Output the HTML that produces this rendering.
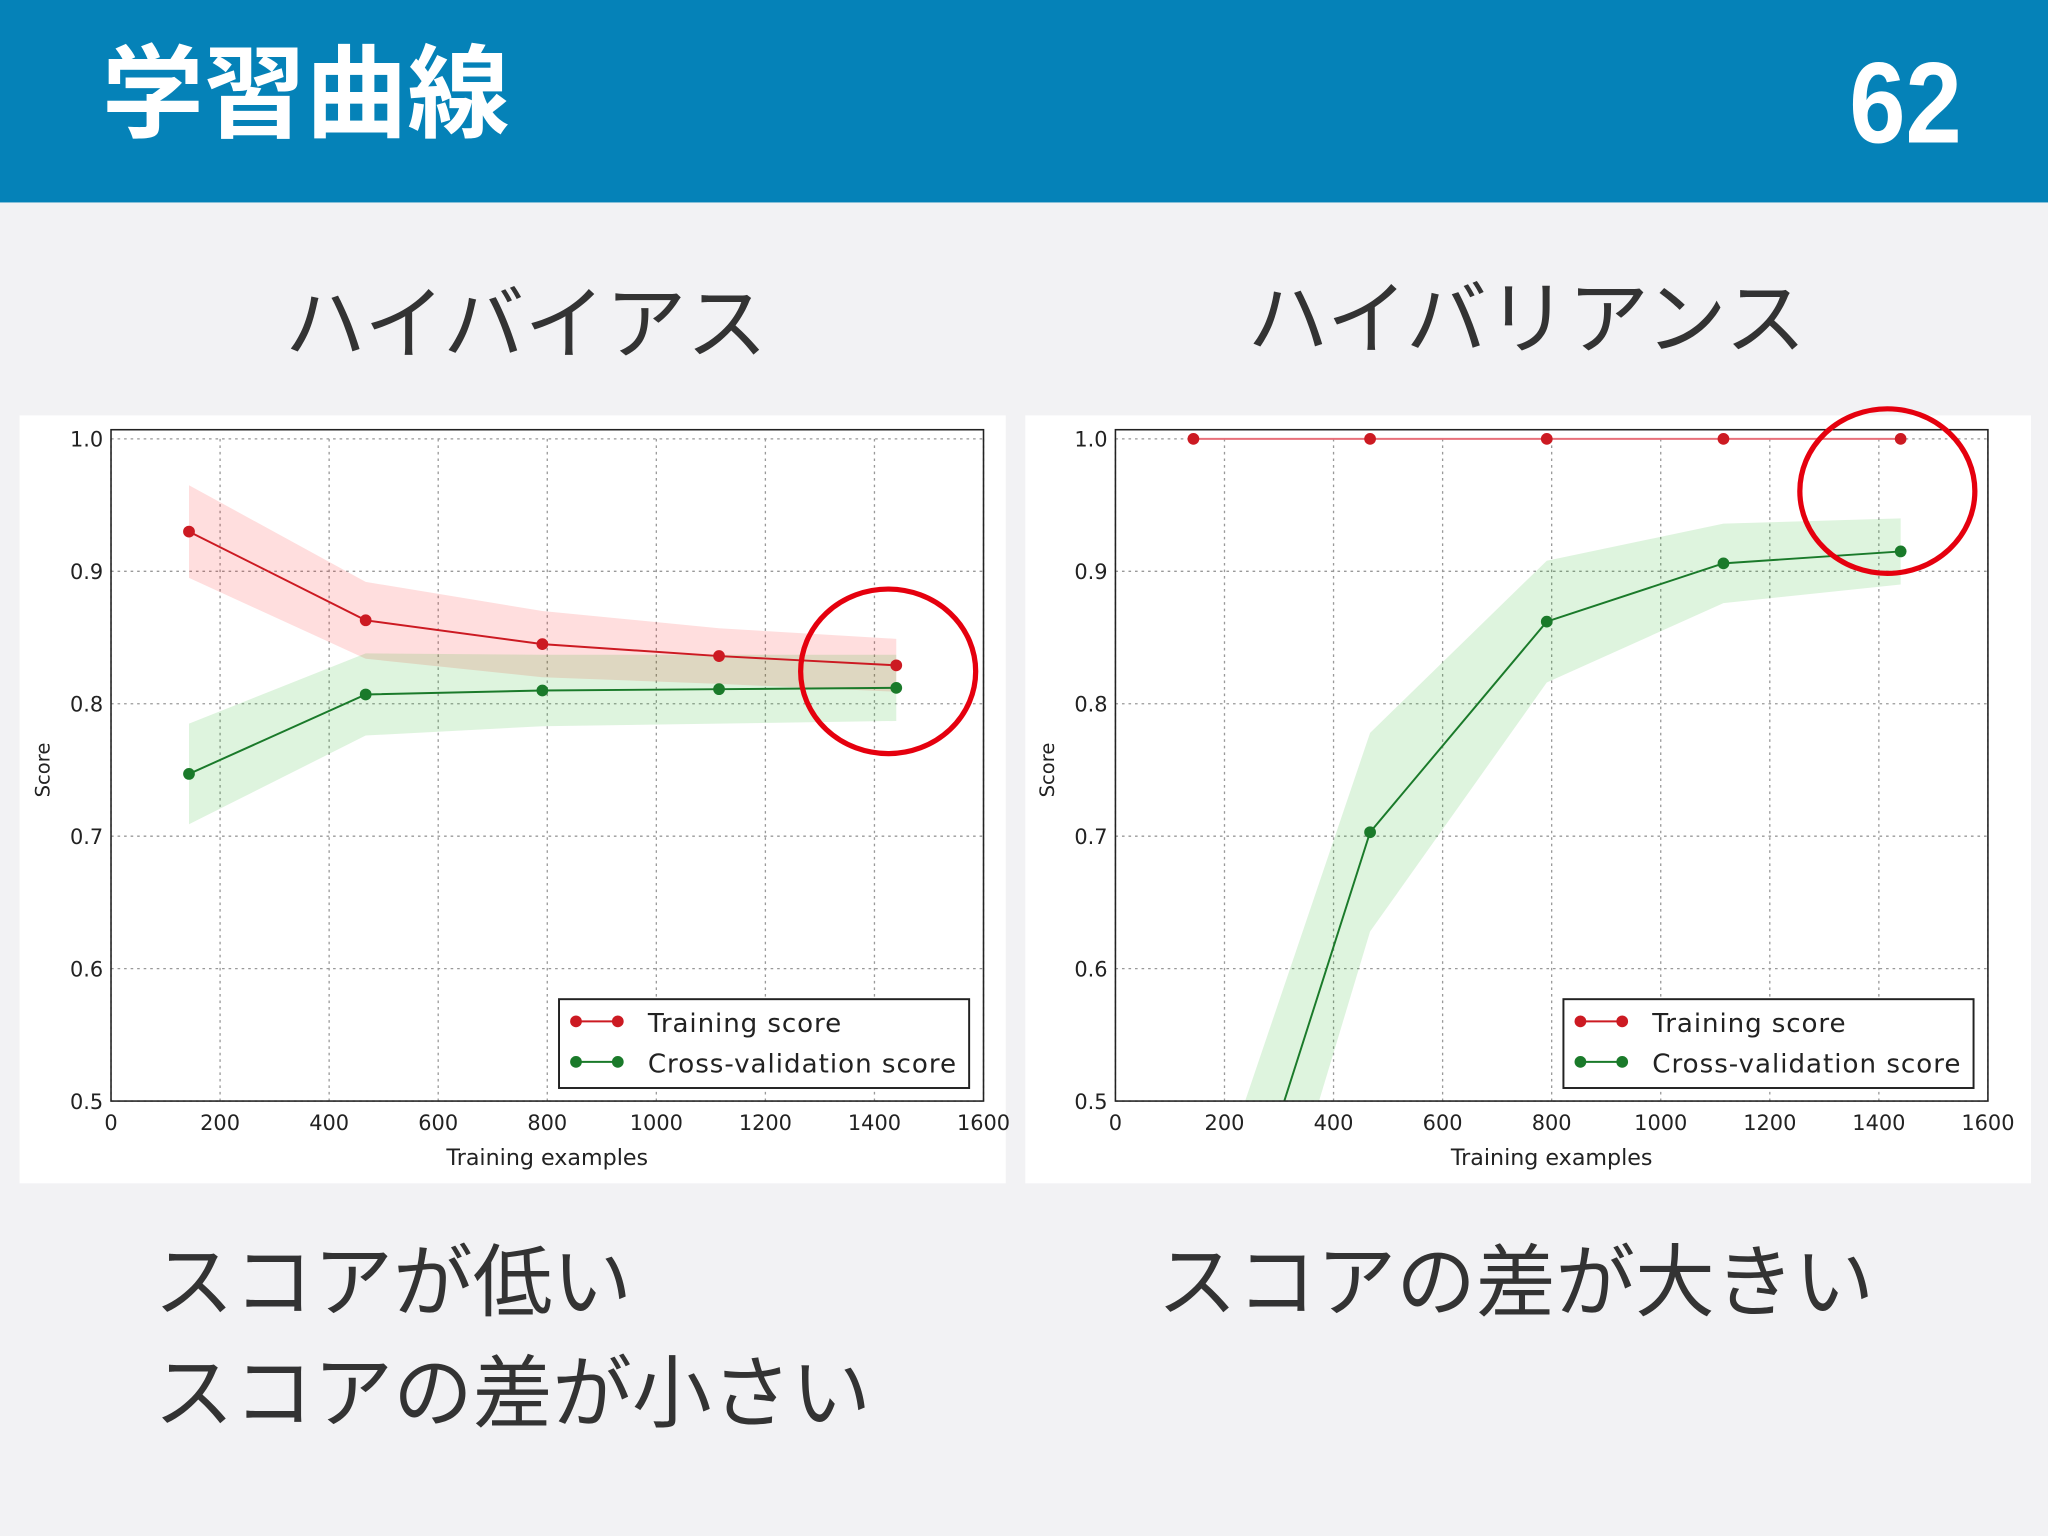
<!DOCTYPE html>
<html><head><meta charset="utf-8"><style>
html,body{margin:0;padding:0;background:#f2f2f4;}
svg{display:block;}
</style></head><body>
<svg id="s" width="2048" height="1536" viewBox="0 0 1568 1176" xmlns="http://www.w3.org/2000/svg">
<rect x="0" y="0" width="1568" height="1176" fill="#f2f2f4"/>
<rect x="0" y="0" width="1568" height="155" fill="#0582b8"/>
<text x="78" y="99" font-family="'Liberation Sans','Noto Sans CJK JP',sans-serif" font-weight="bold" font-size="78" fill="#fff">学習曲線</text>
<text x="0" y="0" text-anchor="end" font-family="'Liberation Sans',sans-serif" font-weight="bold" font-size="88" fill="#fff" transform="translate(1502,109) scale(0.88,1)">62</text>
<text x="218" y="270" font-family="'Liberation Sans','Noto Sans CJK JP',sans-serif" font-size="62" fill="#333">ハイバイアス</text>
<text x="955" y="266" font-family="'Liberation Sans','Noto Sans CJK JP',sans-serif" font-size="62" fill="#333">ハイバリアンス</text>
<text x="118" y="1003" font-family="'Liberation Sans','Noto Sans CJK JP',sans-serif" font-size="61" fill="#333">スコアが低い</text>
<text x="118" y="1088" font-family="'Liberation Sans','Noto Sans CJK JP',sans-serif" font-size="61" fill="#333">スコアの差が小さい</text>
<text x="886" y="1003" font-family="'Liberation Sans','Noto Sans CJK JP',sans-serif" font-size="61" fill="#333">スコアの差が大きい</text>
<g id="charts"></g>
</svg>
<script>
const trainSizes = [143, 467, 791, 1115, 1440];
const leftTrainMean = [0.930, 0.863, 0.845, 0.836, 0.829];
const leftTrainStd = [0.035, 0.029, 0.025, 0.021, 0.020];
const leftCvMean = [0.747, 0.807, 0.810, 0.811, 0.812];
const leftCvStd = [0.038, 0.031, 0.027, 0.026, 0.025];
const rightTrainMean = [1.0, 1.0, 1.0, 1.0, 1.0];
const rightTrainStd = [0.0, 0.0, 0.0, 0.0, 0.0];
const rightCvMean = [0.285, 0.703, 0.862, 0.906, 0.915];
const rightCvStd = [0.10, 0.075, 0.046, 0.030, 0.025];
const xTicks = [0, 200, 400, 600, 800, 1000, 1200, 1400, 1600];
const yTicks = [0.5, 0.6, 0.7, 0.8, 0.9, 1.0];
const yTickLabels = ["0.5", "0.6", "0.7", "0.8", "0.9", "1.0"];

const NS = "http://www.w3.org/2000/svg";
const root = document.getElementById('charts');
function mk(tag, attrs, parent){const e=document.createElementNS(NS,tag);for(const k in attrs)e.setAttribute(k,attrs[k]);(parent||root).appendChild(e);return e;}

function chart(id, fx, fy, fw, fh, px0, px1, trM, trS, cvM, cvS, circle, trCol){
  const py0=336, py1=843;
  const g=mk('g',{});
  
  
  const bg=mk('rect',{x:fx,y:fy,width:fw,height:fh,fill:'#fff'},g);
  
  
  const X=v=>px0+(v-0)/(1600-0)*(px1-px0);
  const Y=v=>py1-(v-0.5)/(1.0-0.5)*(py1-py0);
  const cid=id+'clip';
  const cp=mk('clipPath',{id:cid},g);
  mk('rect',{x:px0,y:py0-7,width:px1-px0,height:py1-py0+7},cp);
  xTicks.forEach(t=>{const l=mk('line',{x1:X(t),x2:X(t),y1:py0,y2:py1,stroke:'#999','stroke-width':1,'stroke-dasharray':'2,3'},g);
    
    
    const tx=mk('text',{x:X(t),y:py1+22,'text-anchor':'middle','font-family':'DejaVu Sans,sans-serif','font-size':16,fill:'#222'},g);tx.textContent=t;
    
    });
  yTicks.forEach((t,i)=>{const l=mk('line',{x1:px0,x2:px1,y1:Y(t),y2:Y(t),stroke:'#999','stroke-width':1,'stroke-dasharray':'2,3'},g);
    
    
    const tx=mk('text',{x:px0-6,y:Y(t)+6,'text-anchor':'end','font-family':'DejaVu Sans,sans-serif','font-size':16,fill:'#222'},g);tx.textContent=yTickLabels[i];
    
    });
  const cl=mk('g',{'clip-path':'url(#'+cid+')'},g);
  function band(m,s,col,nm){
    let d='';trainSizes.forEach((x,i)=>{d+=(i?'L':'M')+X(x)+','+Y(m[i]+s[i]);});
    for(let i=trainSizes.length-1;i>=0;i--)d+='L'+X(trainSizes[i])+','+Y(m[i]-s[i]);
    const p=mk('path',{d:d+'Z',fill:col,'fill-opacity':0.13},cl);
    
    
  }
  function line(m,col,nm,lc){
    const pts=trainSizes.map((x,i)=>X(x)+','+Y(m[i])).join(' ');
    const l=mk('polyline',{points:pts,fill:'none',stroke:lc||col,'stroke-width':1.5},cl);
    
    
    trainSizes.forEach((x,i)=>{const c=mk('circle',{cx:X(x),cy:Y(m[i]),r:4.5,fill:col},cl);
      
      });
  }
  band(trM,trS,'#ff0000',id+'-training-band');
  band(cvM,cvS,'#00aa00',id+'-cv-band');
  line(trM,'#cc1a22',id+'-training',trCol);
  line(cvM,'#1a7a2a',id+'-cv');
  const fr=mk('rect',{x:px0,y:py0-7,width:px1-px0,height:py1-py0+7,fill:'none',stroke:'#222','stroke-width':1.2},g);
  
  
  const yl=mk('text',{x:0,y:0,'text-anchor':'middle','font-family':'DejaVu Sans,sans-serif','font-size':15,fill:'#222',transform:'translate('+(px0-47)+','+((py0+py1)/2)+') rotate(-90)'},g);yl.textContent='Score';
  
  
  const xl=mk('text',{x:(px0+px1)/2,y:py1+49,'text-anchor':'middle','font-family':'DejaVu Sans,sans-serif','font-size':17,fill:'#222'},g);xl.textContent='Training examples';
  
  
  const lx=px0+343, ly=765;
  const lg=mk('g',{},g);
  
  
  mk('rect',{x:lx,y:ly,width:314,height:68,fill:'#fff',stroke:'#222','stroke-width':1.5},lg);
  [['Training score','#cc1a22',782],['Cross-validation score','#1a7a2a',813]].forEach(([t,c,yy])=>{
    mk('line',{x1:lx+13,x2:lx+45,y1:yy,y2:yy,stroke:c,'stroke-width':1.5},lg);
    mk('circle',{cx:lx+13,cy:yy,r:4.5,fill:c},lg);mk('circle',{cx:lx+45,cy:yy,r:4.5,fill:c},lg);
    const tx=mk('text',{x:lx+68,y:yy+8,'font-family':'DejaVu Sans,sans-serif','font-size':20,fill:'#222',textLength:t.length>15?236:148},lg);tx.textContent=t;
    
    
  });
  const rc=mk('ellipse',{cx:circle[0],cy:circle[1],rx:67,ry:63,fill:'none',stroke:'#e5000e','stroke-width':4},g);
  
  
}
chart('left',15,318,755,588,85,753,leftTrainMean,leftTrainStd,leftCvMean,leftCvStd,[680,514]);
chart('right',785,318,770,588,854,1522,rightTrainMean,rightTrainStd,rightCvMean,rightCvStd,[1445,376],'#e8707a');
</script>
</body></html>
